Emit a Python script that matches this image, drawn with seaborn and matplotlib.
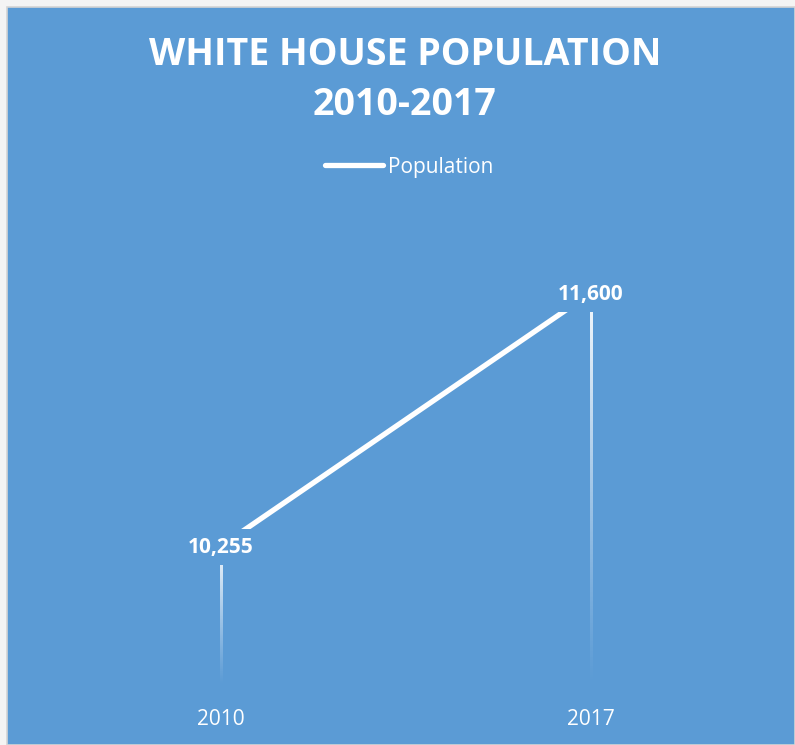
import numpy as np
import pandas as pd
import matplotlib
matplotlib.use("Agg")
import matplotlib.pyplot as plt
from matplotlib.patches import Rectangle
from matplotlib.lines import Line2D
import seaborn as sns

years = ["2010", "2017"]
population = [10255, 11600]
title_text = "WHITE HOUSE POPULATION\n2010-2017"
legend_label = "Population"

BLUE = "#5B9BD5"
FONT = "Open Sans"

sns.set_theme(style="white")
plt.rcParams["font.family"] = [FONT, "DejaVu Sans"]

W, H = 795, 745
fig = plt.figure(figsize=(W / 100, H / 100), dpi=100, facecolor="#f4f4f4")
fig.patches.append(Rectangle((7 / W, 0), 1 - 7 / W, 1 - 7 / H, transform=fig.transFigure,
                             facecolor=BLUE, edgecolor="#d4d4d4", linewidth=1.2, zorder=-10))

ax = fig.add_axes([36 / W, 60 / H, 740 / W, 485 / H])
ax.set_facecolor("none")
for s in ax.spines.values():
    s.set_visible(False)

df = pd.DataFrame({"idx": np.arange(len(years)), "Population": population})
sns.lineplot(data=df, x="idx", y="Population", ax=ax, color="white", linewidth=3.8,
             legend=False, zorder=2)
for ln in ax.lines:
    ln.set_solid_capstyle("butt")

ax.set_xlim(-0.5, len(years) - 0.5)
ax.set_ylim(9516, 12094)
ymin = ax.get_ylim()[0]

# gradient drop lines (white fading to transparent toward the axis)
half_w = 1.3 * (ax.get_xlim()[1] - ax.get_xlim()[0]) / 740
grad = np.ones((200, 1, 4))
grad[:, 0, 3] = np.linspace(0.95, 0.0, 200) ** 1.1
for i, v in enumerate(population):
    ax.imshow(grad, extent=(i - half_w, i + half_w, ymin, v), origin="upper",
              aspect="auto", interpolation="bilinear", zorder=1)
ax.set_xlim(-0.5, len(years) - 0.5)
ax.set_ylim(9516, 12094)

# data labels
for i, v in enumerate(population):
    ax.annotate(f"{v:,}", xy=(i, v), xytext=(0, -1), textcoords="offset points",
                ha="center", va="center", color="white", fontsize=15, fontweight="bold",
                bbox=dict(boxstyle="square,pad=0.36", facecolor=BLUE, edgecolor="none"),
                zorder=3)

ax.set_xticks(range(len(years)))
ax.set_xticklabels(years, color="white", fontsize=15)
ax.tick_params(axis="x", length=0, pad=17)
ax.set_yticks([])
ax.set_xlabel("")
ax.set_ylabel("")

fig.text(405 / W, 1 - 80 / H, title_text, ha="center", va="center", color="white",
         fontsize=27, fontweight="bold", linespacing=1.4)

# legend
handle = Line2D([], [], color="white", linewidth=3.8, solid_capstyle="round")
leg = fig.legend([handle], [legend_label], loc="center", bbox_to_anchor=(409 / W, 1 - 167 / H),
                 frameon=False, fontsize=15, handlelength=2.8, handletextpad=0.2)
for t in leg.get_texts():
    t.set_color("white")

fig.savefig("out.png", dpi=100, facecolor=fig.get_facecolor())
